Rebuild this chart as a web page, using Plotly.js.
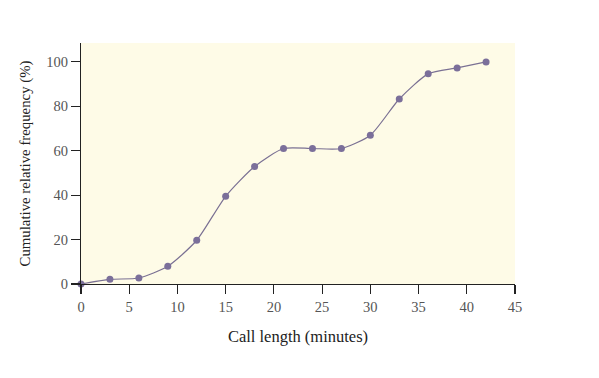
<!DOCTYPE html>
<html>
<head>
<meta charset="utf-8">
<script src="https://cdn.plot.ly/plotly-3.0.1.min.js"></script>
<style>html,body{margin:0;padding:0;background:#fff;}#chart{width:599px;height:378px;}</style>
</head>
<body>
<div id="chart"></div>
<script>
const callLength = [0, 3, 6, 9, 12, 15, 18, 21, 24, 27, 30, 33, 36, 39, 42];
const cumFreq = [0, 2.1, 2.7, 8.0, 19.7, 39.5, 52.9, 61.0, 61.0, 61.0, 67.0, 83.3, 94.6, 97.3, 100];
const xTicks = [0, 5, 10, 15, 20, 25, 30, 35, 40, 45];
const yTicks = [0, 20, 40, 60, 80, 100];

const font = {family: '"Liberation Serif", "DejaVu Serif", serif', color: '#333'};

Plotly.newPlot('chart', [{
  x: callLength, y: cumFreq,
  type: 'scatter', mode: 'lines+markers',
  line: {shape: 'spline', smoothing: 0.65, color: '#7a7093', width: 1.2},
  marker: {color: '#7b6f9a', size: 7},
  cliponaxis: false
}], {
  width: 599, height: 378,
  margin: {l: 81, r: 84, t: 43, b: 94},
  paper_bgcolor: '#ffffff',
  plot_bgcolor: '#fefbe7',
  showlegend: false,
  font: font,
  xaxis: {
    range: [0, 45], tickvals: xTicks, ticktext: xTicks.map(String),
    showgrid: false, zeroline: false, showline: true, linecolor: '#222', linewidth: 1.2,
    ticks: 'outside', ticklen: 9, tickwidth: 1.2, tickcolor: '#222',
    tickfont: {family: font.family, size: 14.5, color: '#555'},
    title: {text: 'Call length (minutes)', font: {family: font.family, size: 16.5, color: '#222'}, standoff: 16}
  },
  yaxis: {
    range: [0, 108.5], tickvals: yTicks, ticktext: yTicks.map(String),
    showgrid: false, zeroline: false, showline: true, linecolor: '#222', linewidth: 1.2,
    ticks: 'outside', ticklen: 9, tickwidth: 1.2, tickcolor: '#222',
    tickfont: {family: font.family, size: 14.5, color: '#555'},
    title: {text: 'Cumulative relative frequency (%)', font: {family: font.family, size: 14.8, color: '#222'}, standoff: 12}
  }
}, {staticPlot: true, displayModeBar: false});
</script>
</body>
</html>
